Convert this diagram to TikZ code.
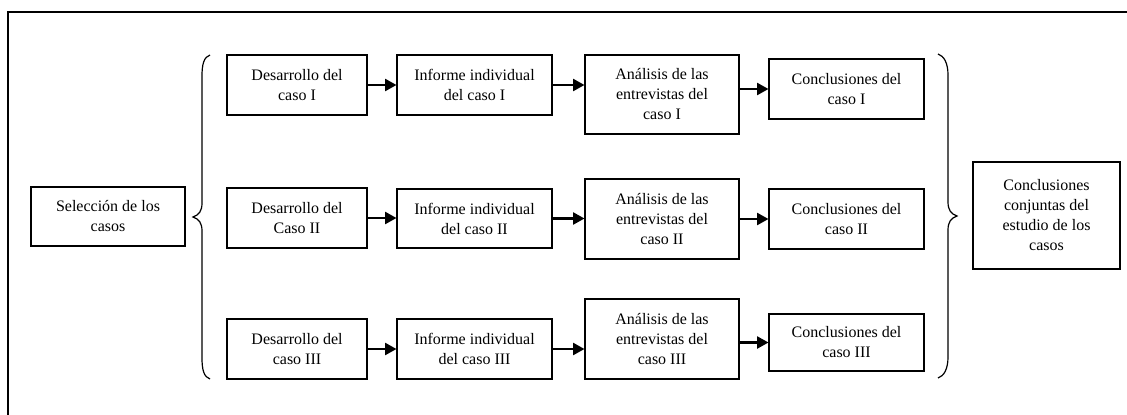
\documentclass[tikz,border=0pt]{standalone}
\usepackage{fontspec}
\setmainfont{Liberation Serif}
\usetikzlibrary{arrows.meta}
\tikzset{
  box/.style={draw, line width=0.8pt, inner sep=0pt, align=center,
    font=\fontsize{12pt}{15pt}\selectfont},
  flow/.style={line width=1.6pt, -{Triangle[length=8.5pt,width=9pt]}},
  bracepath/.style={line width=0.9pt},
  frame/.style={line width=1.3pt}
}
\newcommand{\bx}[6]{\node[box, minimum width={(#4-#2)*0.75pt}, minimum height={(#5-#3)*0.75pt}] (#1) at ({(#2+#4)/2},{(#3+#5)/2}) {#6};}
\begin{document}
\begin{tikzpicture}[x=0.75pt,y=-0.75pt]
\useasboundingbox (0,0) rectangle (1127,414);
\draw[frame] (8,416) -- (8,12) -- (1129,12);

\bx{sel}{31}{187}{185}{246}{Selección de los\\casos}

\bx{d1}{227}{55}{367}{115}{Desarrollo del\\caso I}
\bx{i1}{397}{55}{552}{115}{Informe individual\\del caso I}
\bx{a1}{585}{55}{739}{134}{Análisis de las\\entrevistas del\\caso I}
\bx{c1}{769}{59}{924}{119}{Conclusiones del\\caso I}

\bx{d2}{227}{188}{367}{248}{Desarrollo del\\Caso II}
\bx{i2}{397}{189}{552}{248}{Informe individual\\del caso II}
\bx{a2}{585}{179}{739}{259}{Análisis de las\\entrevistas del\\caso II}
\bx{c2}{769}{189}{924}{249}{Conclusiones del\\caso II}

\bx{d3}{227}{319}{367}{379}{Desarrollo del\\caso III}
\bx{i3}{397}{319}{552}{379}{Informe individual\\del caso III}
\bx{a3}{585}{299}{739}{379}{Análisis de las\\entrevistas del\\caso III}
\bx{c3}{769}{314}{924}{371}{Conclusiones del\\caso III}

\bx{fin}{973}{162}{1120}{269}{Conclusiones\\conjuntas del\\estudio de los\\casos}

\foreach \r in {1,2,3}{
  \draw[flow] (d\r.east) -- (d\r.east -| i\r.west);
  \draw[flow] (i\r.east) -- (i\r.east -| a\r.west);
  \draw[flow] (a\r.east |- c\r.west) -- (c\r.west);
}

% left brace
\draw[bracepath] (210,55) .. controls (204,57) and (202,64) .. (202,76)
  -- (202,203) .. controls (202,211) and (199,215) .. (193,217)
  .. controls (199,219) and (202,223) .. (202,231)
  -- (202,358) .. controls (202,370) and (204,377) .. (210,379);
% right brace
\draw[bracepath] (938,54) .. controls (944,56) and (948,63) .. (948,75)
  -- (948,202) .. controls (948,210) and (951,214) .. (957,216)
  .. controls (951,218) and (948,222) .. (948,230)
  -- (948,357) .. controls (948,369) and (944,376) .. (938,378);
\end{tikzpicture}
\end{document}
